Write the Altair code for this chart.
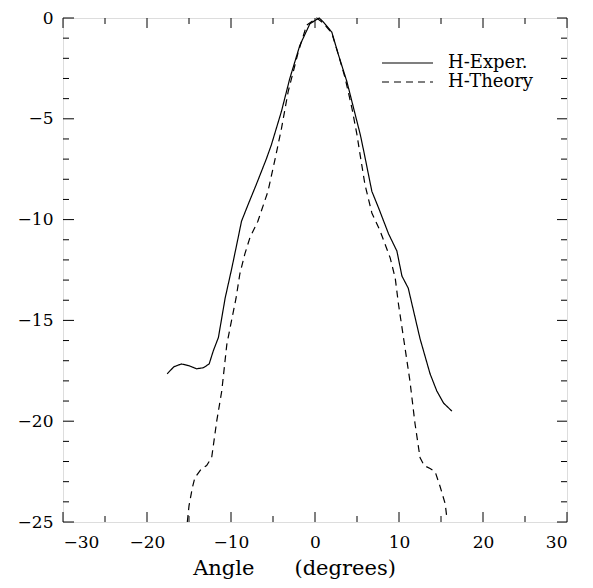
import altair as alt
import pandas as pd

# H-Exper. (solid)
exp_x = [-17.6, -16.8, -15.9, -15.0, -14.1, -13.3, -12.6, -12.1, -11.5, -10.7, -9.9, -9.15,
         -8.75, -7.96, -7.0, -5.8, -5.2, -4.0, -3.0, -1.8, -0.6, 0.5, 1.0, 2.0, 2.8, 3.8,
         4.6, 5.4, 5.9, 6.77, 7.55, 8.75, 9.75, 10.35, 11.1, 12.5, 13.7, 14.5, 15.3, 16.3]
exp_y = [-17.65, -17.3, -17.16, -17.25, -17.4, -17.35, -17.16, -16.5, -15.85, -13.9, -12.4, -10.9,
         -10.08, -9.25, -8.27, -7.0, -6.3, -4.64, -3.0, -1.35, -0.28, 0.0, -0.2, -0.7, -1.84, -3.16,
         -4.48, -5.8, -6.8, -8.6, -9.4, -10.7, -11.56, -12.8, -13.4, -15.9, -17.65, -18.5, -19.1, -19.5]

# H-Theory (dashed)
th_x = [-15.2, -15.0, -14.6, -14.3, -13.5, -12.9, -12.3, -11.7, -11.1, -10.5, -10.1, -9.4,
        -8.95, -8.35, -7.75, -6.8, -5.6, -4.7, -4.0, -3.2, -2.0, -1.0, 0.2, 1.0, 2.0, 2.8,
        3.6, 4.4, 5.0, 5.3, 5.95, 6.77, 7.76, 8.95, 9.55, 9.94, 10.5, 11.3, 11.9, 12.5, 13.0,
        13.7, 14.3, 14.9, 15.5, 15.7]
th_y = [-25.0, -24.2, -23.3, -22.8, -22.35, -22.2, -21.8, -20.0, -18.5, -16.2, -15.35, -13.9,
        -12.7, -11.7, -10.9, -10.08, -8.6, -6.9, -5.5, -3.66, -1.7, -0.36, 0.0, -0.25, -0.75, -1.84,
        -3.0, -4.48, -5.8, -6.6, -8.27, -9.67, -10.57, -11.9, -12.9, -14.2, -15.76, -18.0, -20.1, -21.8, -22.2,
        -22.35, -22.5, -23.25, -24.1, -24.8]

series_names = ["H-Exper.", "H-Theory"]

x_labels = [-30, -20, -10, 0, 10, 20, 30]
y_labels = [-25, -20, -15, -10, -5, 0]
x_ticks_major = [-30, -20, -10, 0, 10, 20, 30]
x_ticks_minor = [-25, -15, -5, 5, 15, 25]
y_ticks_major = [-25, -20, -15, -10, -5, 0]
y_ticks_minor = [-24, -23, -22, -21, -19, -18, -17, -16, -14, -13, -12, -11,
                 -9, -8, -7, -6, -4, -3, -2, -1]

W, H = 504, 504
FONT = "DejaVu Serif"
NB = "\u00a0"

df = pd.concat([
    pd.DataFrame({"angle": exp_x, "level": exp_y, "series": series_names[0], "order": range(len(exp_x))}),
    pd.DataFrame({"angle": th_x, "level": th_y, "series": series_names[1], "order": range(len(th_x))}),
])

xs = alt.Scale(domain=[-30, 30], nice=False, zero=False)
ys = alt.Scale(domain=[-25, 0], nice=False, zero=False)
dash_scale = alt.Scale(domain=series_names, range=[[1, 0], [7, 5]])

label_expr = "datum.value < 0 ? '\u2212' + abs(datum.value) : datum.label"

lines = alt.Chart(df).mark_line(color="black", strokeWidth=1.2).encode(
    x=alt.X("angle:Q", scale=xs,
            axis=alt.Axis(values=x_labels, title="Angle" + NB * 6 + "(degrees)", labelExpr=label_expr,
                          labelFont=FONT, labelFontSize=17, labelColor="black", labelPadding=12,
                          tickSize=0, domain=False, grid=False,
                          titleFont=FONT, titleFontSize=21, titleFontWeight="normal",
                          titleColor="black", titleX=231, titleY=52, titleBaseline="alphabetic",
                          titleAlign="center", titleAnchor="start")),
    y=alt.Y("level:Q", scale=ys,
            axis=alt.Axis(values=y_labels, title=None, labelExpr=label_expr,
                          labelFont=FONT, labelFontSize=17, labelColor="black", labelPadding=10,
                          tickSize=0, domain=False, grid=False)),
    strokeDash=alt.StrokeDash("series:N", scale=dash_scale, legend=None),
    detail="series:N",
    order="order:Q",
)

# legend drawn as small layers
legend_layers = []
for i, name in enumerate(series_names):
    ld = pd.DataFrame({"series": [name]})
    yy = 45 + 19 * i
    legend_layers.append(alt.Chart(ld).mark_rule(color="black", strokeWidth=1.2).encode(
        x=alt.value(319), x2=alt.value(370), y=alt.value(yy),
        strokeDash=alt.StrokeDash("series:N", scale=dash_scale, legend=None)))
    legend_layers.append(alt.Chart(ld).mark_text(font=FONT, fontSize=18, color="black",
                                                 align="left", baseline="middle").encode(
        x=alt.value(385), y=alt.value(yy), text="series:N"))

def xticks(vals, length, top):
    d = pd.DataFrame({"v": vals})
    if top:
        return alt.Chart(d).mark_rule(color="black", strokeWidth=1).encode(
            x=alt.X("v:Q", scale=xs), y=alt.value(0), y2=alt.value(length))
    return alt.Chart(d).mark_rule(color="black", strokeWidth=1).encode(
        x=alt.X("v:Q", scale=xs), y=alt.value(H), y2=alt.value(H - length))

def yticks(vals, length, right):
    d = pd.DataFrame({"v": vals})
    if right:
        return alt.Chart(d).mark_rule(color="black", strokeWidth=1).encode(
            y=alt.Y("v:Q", scale=ys), x=alt.value(W), x2=alt.value(W - length))
    return alt.Chart(d).mark_rule(color="black", strokeWidth=1).encode(
        y=alt.Y("v:Q", scale=ys), x=alt.value(0), x2=alt.value(length))

ticks = [
    xticks(x_ticks_major, 10, False), xticks(x_ticks_minor, 6, False),
    xticks(x_ticks_major, 10, True), xticks(x_ticks_minor, 6, True),
    yticks(y_ticks_major, 11, False), yticks(y_ticks_minor, 6, False),
    yticks(y_ticks_major, 10, True), yticks(y_ticks_minor, 6, True),
]

chart = alt.layer(lines, *ticks, *legend_layers).properties(
    width=W, height=H,
    autosize=alt.AutoSizeParams(type="none"),
    padding={"left": 55, "top": 10, "right": 18, "bottom": 58},
).configure_view(stroke="black", strokeWidth=1.5).configure(background="white")

chart.save("out.html", embed_options={"renderer": "svg", "actions": False})
